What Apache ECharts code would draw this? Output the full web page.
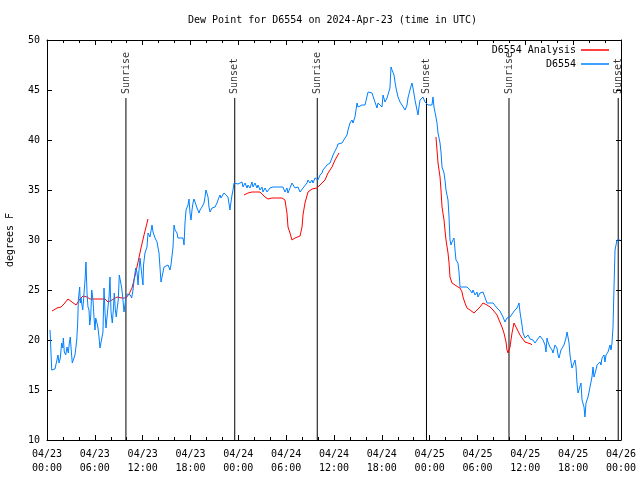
<!DOCTYPE html>
<html><head><meta charset="utf-8">
<script src="https://cdn.jsdelivr.net/npm/echarts@6/dist/echarts.min.js"></script>
<style>html,body{margin:0;padding:0;background:#fff}#c{width:640px;height:480px}</style>
</head><body><div id="c"></div>
<script>
const titleText = 'Dew Point for D6554 on 2024-Apr-23 (time in UTC)';
const yAxisName = 'degrees F';
const xTickLabels = ['04/23\n00:00','04/23\n06:00','04/23\n12:00','04/23\n18:00','04/24\n00:00','04/24\n06:00','04/24\n12:00','04/24\n18:00','04/25\n00:00','04/25\n06:00','04/25\n12:00','04/25\n18:00','04/26\n00:00'];
const seriesNames = ['D6554 Analysis', 'D6554'];
// hours since 2024-04-23 00:00 UTC, dew point (F)
const obsPoints = [[0.38,21.0],[0.59,17.0],[0.75,17.2],[1.00,17.1],[1.25,17.2],[1.38,18.5],[1.51,17.7],[1.67,18.2],[1.84,19.7],[1.97,19.2],[2.05,20.2],[2.17,18.8],[2.35,18.5],[2.51,19.3],[2.67,18.7],[2.80,19.7],[2.92,20.3],[3.01,19.3],[3.17,17.7],[3.35,17.8],[3.51,18.5],[3.73,20.0],[3.85,21.7],[3.93,24.0],[4.10,25.3],[4.18,23.7],[4.27,24.2],[4.39,23.5],[4.48,23.0],[4.60,24.2],[4.77,26.0],[4.89,27.8],[5.02,24.7],[5.14,23.3],[5.27,23.0],[5.36,21.5],[5.48,22.3],[5.61,25.0],[5.77,24.0],[5.90,22.2],[6.02,21.0],[6.11,22.2],[6.27,21.7],[6.40,21.2],[6.52,20.3],[6.65,19.2],[6.86,19.2],[7.02,20.8],[7.15,25.2],[7.28,22.7],[7.40,21.2],[7.53,22.3],[7.65,23.3],[7.78,24.3],[7.90,26.3],[8.03,22.8],[8.19,21.7],[8.32,23.0],[8.44,24.7],[8.57,23.0],[8.69,22.3],[8.82,23.3],[8.94,24.0],[9.07,26.5],[9.25,26.3],[9.37,25.2],[9.53,24.0],[9.66,22.8],[9.78,23.5],[9.91,24.3],[10.07,24.6],[10.29,24.5],[10.45,24.5],[10.62,24.2],[10.79,25.0],[10.95,26.2],[11.13,27.2],[11.29,26.8],[11.42,25.5],[11.54,27.0],[11.67,28.2],[11.92,26.3],[12.04,25.5],[12.11,27.5],[12.29,28.7],[12.54,29.3],[12.67,30.7],[12.92,30.3],[13.17,31.5],[13.30,30.8],[13.55,30.2],[13.80,29.8],[14.05,28.7],[14.30,25.8],[14.43,26.3],[14.68,27.3],[14.93,27.5],[15.18,27.5],[15.43,27.0],[15.55,27.5],[15.81,29.3],[15.93,31.5],[16.06,31.0],[16.31,30.7],[16.43,30.2],[17.06,30.2],[17.19,29.5],[17.31,31.7],[17.44,33.0],[17.69,33.5],[17.81,34.1],[17.94,32.7],[18.06,32.0],[18.19,33.0],[18.31,33.7],[18.44,34.1],[18.69,34.1],[18.82,33.2],[19.07,32.7],[19.19,33.0],[19.44,33.3],[19.69,33.7],[19.82,34.3],[19.94,35.0],[20.20,34.3],[20.32,33.3],[20.45,32.8],[20.70,33.2],[20.82,33.0],[21.07,33.3],[21.32,33.7],[21.45,34.0],[21.70,34.5],[21.83,34.2],[22.08,34.3],[22.20,34.7],[22.45,34.5],[22.70,34.3],[22.83,34.2],[22.95,33.0],[23.08,33.8],[23.21,34.5],[23.33,35.0],[23.46,35.7],[23.71,35.8],[23.96,35.6],[24.21,35.7],[24.46,35.8],[24.59,35.3],[24.84,35.7],[25.09,35.2],[25.21,35.5],[25.46,35.2],[25.71,35.8],[25.84,35.3],[26.09,35.7],[26.34,35.2],[26.47,35.5],[26.72,35.0],[26.97,35.3],[27.09,34.8],[27.35,35.2],[27.60,34.8],[27.72,34.8],[27.97,35.2],[28.22,35.2],[28.35,35.3],[28.60,35.3],[28.85,35.3],[28.98,35.2],[29.23,35.3],[29.60,35.3],[29.85,34.8],[30.10,35.2],[30.23,34.7],[30.48,35.2],[30.73,35.7],[30.86,35.5],[31.11,35.2],[31.36,35.0],[31.48,35.3],[31.74,34.8],[31.99,34.8],[32.11,35.2],[32.36,35.0],[32.61,35.7],[32.74,36.0],[32.99,35.7],[33.24,36.0],[33.37,35.7],[33.62,36.2],[33.87,36.3],[33.99,36.0],[34.24,36.5],[34.50,36.7],[34.62,37.0],[34.87,37.0],[35.12,37.5],[35.25,37.7],[35.50,37.7],[35.75,38.2],[35.88,38.5],[36.13,38.7],[36.38,39.3],[36.50,39.6],[37.00,39.7],[37.13,39.9],[37.38,40.2],[37.63,40.5],[37.76,41.0],[38.01,41.7],[38.26,42.0],[38.38,41.7],[38.63,42.3],[38.89,43.7],[39.01,43.3],[39.26,43.2],[39.51,43.5],[39.89,43.5],[40.14,43.7],[40.27,44.8],[40.52,45.0],[40.77,44.7],[40.89,44.5],[41.14,43.8],[41.39,43.2],[41.52,43.7],[41.77,43.8],[42.02,43.3],[42.15,44.5],[42.40,43.8],[42.65,44.2],[42.77,44.2],[43.02,45.2],[43.15,47.3],[43.28,47.0],[43.53,46.5],[43.65,45.8],[43.78,45.2],[44.03,44.3],[44.15,44.2],[44.28,43.8],[44.53,43.5],[44.66,43.3],[44.91,43.0],[45.16,43.5],[45.28,44.2],[45.53,45.0],[45.78,45.7],[45.91,45.2],[46.16,44.0],[46.41,43.0],[46.54,42.5],[46.66,43.3],[46.79,44.0],[47.04,44.2],[47.16,44.3],[47.41,43.8],[47.79,43.5],[48.29,43.5],[48.42,44.3],[48.54,43.3],[48.79,42.3],[48.92,41.7],[49.05,40.7],[49.30,39.7],[49.42,38.8],[49.55,37.3],[49.80,36.7],[49.92,36.0],[50.05,35.0],[50.30,34.0],[50.43,32.3],[50.55,30.0],[50.68,29.5],[50.80,29.8],[51.05,30.2],[51.18,29.0],[51.30,28.0],[51.55,27.7],[51.68,26.8],[51.81,25.3],[52.06,25.2],[52.18,25.3],[52.43,25.2],[52.68,25.3],[52.81,25.2],[53.06,25.0],[53.31,24.7],[53.44,25.0],[53.69,24.5],[53.94,24.8],[54.06,24.3],[54.31,24.7],[54.56,24.5],[54.69,24.8],[54.94,25.0],[55.19,23.7],[55.95,23.7],[56.20,23.5],[56.45,23.2],[56.57,23.0],[56.82,22.9],[57.07,22.7],[57.20,22.3],[57.45,21.8],[57.70,22.2],[58.08,22.3],[58.33,22.6],[58.45,22.8],[58.70,23.0],[58.96,23.2],[59.08,23.3],[59.21,23.7],[59.33,22.8],[59.58,21.5],[59.71,20.7],[59.96,20.2],[60.21,20.3],[60.34,20.5],[60.59,20.1],[60.84,20.1],[60.96,20.0],[61.21,19.7],[61.46,20.0],[61.59,20.2],[61.84,20.4],[62.09,20.5],[62.22,20.0],[62.47,19.5],[62.59,18.8],[62.72,20.2],[62.84,19.8],[63.09,19.3],[63.35,19.0],[63.47,18.7],[63.72,19.5],[63.97,19.2],[64.10,18.5],[64.22,18.2],[64.47,19.0],[64.60,19.0],[64.85,19.5],[65.10,20.2],[65.23,20.8],[65.35,20.3],[65.48,19.7],[65.60,18.5],[65.85,17.2],[65.98,17.2],[66.23,18.0],[66.36,17.3],[66.48,15.7],[66.61,14.7],[66.86,14.8],[66.98,15.7],[67.11,14.0],[67.36,13.3],[67.48,12.3],[67.61,13.7],[67.86,14.3],[67.99,14.8],[68.11,15.3],[68.36,16.3],[68.49,17.3],[68.61,16.3],[68.86,17.0],[68.99,17.5],[69.12,17.5],[69.37,17.8],[69.49,17.5],[69.62,18.2],[69.87,18.5],[69.99,17.8],[70.12,18.5],[70.37,18.8],[70.50,18.8],[70.62,19.5],[70.75,19.0],[70.87,19.7],[71.00,21.3],[71.12,25.2],[71.25,29.0],[71.50,30.0],[71.62,30.2],[71.87,30.0]];
// analysis segments (gaps between them)
const analysisSeg1 = [[0.63,22.9],[1.25,23.2],[1.76,23.3],[2.13,23.6],[2.63,24.1],[3.14,23.8],[3.64,23.5],[4.14,24.1],[4.52,24.4],[5.02,24.3],[5.39,24.1],[6.02,24.1],[6.65,24.1],[7.28,24.1],[7.65,23.8],[8.15,24.0],[8.78,24.3],[9.41,24.2],[9.91,24.2],[10.29,24.6],[10.66,25.2],[11.04,26.4],[11.42,27.8],[11.79,29.2],[12.17,30.5],[12.67,32.1]];
const analysisSeg2 = [[24.71,34.5],[25.21,34.7],[25.71,34.8],[26.72,34.8],[26.97,34.7],[27.35,34.3],[27.72,34.1],[28.22,34.2],[29.48,34.2],[29.85,34.0],[30.10,32.7],[30.23,31.3],[30.48,30.7],[30.73,30.0],[31.11,30.2],[31.74,30.4],[31.99,31.3],[32.11,32.5],[32.36,33.7],[32.74,34.8],[33.24,35.1],[33.87,35.2],[34.24,35.5],[34.50,35.7],[34.87,36.0],[35.25,36.7],[35.75,37.3],[36.13,38.0],[36.63,38.7]];
const analysisSeg3 = [[48.79,40.3],[48.92,39.0],[49.05,37.7],[49.30,36.3],[49.42,35.0],[49.55,33.3],[49.80,32.0],[49.92,31.0],[50.05,30.0],[50.30,28.7],[50.43,27.7],[50.55,26.3],[50.80,25.7],[51.18,25.5],[51.55,25.3],[51.81,25.2],[52.06,24.8],[52.18,24.3],[52.43,23.7],[52.68,23.2],[53.06,23.0],[53.56,22.7],[53.94,23.0],[54.31,23.3],[54.69,23.7],[55.19,23.5],[55.57,23.3],[55.95,23.0],[56.45,22.5],[56.70,22.0],[57.07,21.3],[57.32,20.7],[57.58,19.8],[57.70,19.0],[57.83,18.7],[58.08,19.3],[58.20,20.0],[58.33,20.7],[58.58,21.7],[58.83,21.3],[59.08,20.9],[59.33,20.5],[59.58,20.2],[59.96,19.8],[60.21,19.7],[60.71,19.6],[60.84,19.5]];
const sunriseHours = [9.9, 33.9, 57.95];
const sunsetHours = [23.55, 47.6, 71.65];

const FONT = 'DejaVu Sans Mono';
const lineTop = 44.2, labelBase = 44.6, yMin = 10, yMax = 50;

const gap = [['-','-']];
const analysisData = analysisSeg1.concat(gap, analysisSeg2, gap, analysisSeg3);
const eventLines = [];
const eventLabels = [];
sunriseHours.forEach(t => { eventLines.push([t, yMin], [t, lineTop], ['-','-']); eventLabels.push([t, labelBase, 'Sunrise']); });
sunsetHours.forEach(t => { eventLines.push([t, yMin], [t, lineTop], ['-','-']); eventLabels.push([t, labelBase, 'Sunset']); });

const tickCommon = {
  axisLine: {show: true, onZero: false, lineStyle: {color: '#000', width: 1}},
  axisTick: {show: true, inside: true, length: 5, lineStyle: {color: '#000', width: 1}},
  splitLine: {show: false}
};

const chart = echarts.init(document.getElementById('c'), null, {renderer: 'canvas'});
chart.setOption({
  animation: false,
  backgroundColor: '#fff',
  textStyle: {fontFamily: FONT},
  title: {text: titleText, left: 183, top: 10, textStyle: {fontFamily: FONT, fontSize: 10, fontWeight: 'normal', color: '#000'}},
  legend: {
    data: seriesNames, orient: 'vertical', right: 26, top: 39, align: 'right',
    itemWidth: 28, itemHeight: 1.5, itemGap: 2, icon: 'rect',
    textStyle: {fontFamily: FONT, fontSize: 10, color: '#000', lineHeight: 12},
    selectedMode: false
  },
  grid: {left: 47, right: 19, top: 40, bottom: 40, containLabel: false, outerBoundsMode: 'none'},
  xAxis: [
    Object.assign({type: 'value', min: 0, max: 72, interval: 6, position: 'bottom',
      minorTick: {show: true, splitNumber: 3, length: 3, lineStyle: {color: '#000'}},
      axisLabel: {formatter: v => xTickLabels[Math.round(v / 6)], fontFamily: FONT, fontSize: 10, color: '#000', margin: 7, lineHeight: 14}
    }, tickCommon),
    Object.assign({type: 'value', min: 0, max: 72, interval: 6, position: 'top',
      minorTick: {show: true, splitNumber: 3, length: 3, lineStyle: {color: '#000'}},
      axisLabel: {show: false}
    }, tickCommon)
  ],
  yAxis: [
    Object.assign({type: 'value', min: yMin, max: yMax, interval: 5, position: 'left',
      name: yAxisName, nameLocation: 'middle', nameGap: 32, nameRotate: 90,
      nameTextStyle: {fontFamily: FONT, fontSize: 10, color: '#000'},
      axisLabel: {fontFamily: FONT, fontSize: 10, color: '#000', margin: 7}
    }, tickCommon),
    Object.assign({type: 'value', min: yMin, max: yMax, interval: 5, position: 'right',
      axisLabel: {show: false}
    }, tickCommon)
  ],
  series: [
    {name: 'events', type: 'line', data: eventLines, showSymbol: false, silent: true, z: 1,
     connectNulls: false, lineStyle: {color: '#000', width: 1}, itemStyle: {color: '#000'}},
    {name: 'eventLabels', type: 'scatter', data: eventLabels, symbolSize: 0, silent: true, z: 1,
     encode: {x: 0, y: 1},
     label: {show: true, formatter: p => p.value[2], rotate: 90, position: 'inside', align: 'left', verticalAlign: 'middle',
       fontFamily: FONT, fontSize: 10, color: '#000'}},
    {name: seriesNames[0], type: 'line', data: analysisData, showSymbol: false, connectNulls: false, z: 2,
     lineStyle: {color: '#ff0000', width: 1}, itemStyle: {color: '#ff0000'}},
    {name: seriesNames[1], type: 'line', data: obsPoints, showSymbol: false, z: 3,
     lineStyle: {color: '#0080ff', width: 1}, itemStyle: {color: '#0080ff'}}
  ]
});
</script>
</body></html>
